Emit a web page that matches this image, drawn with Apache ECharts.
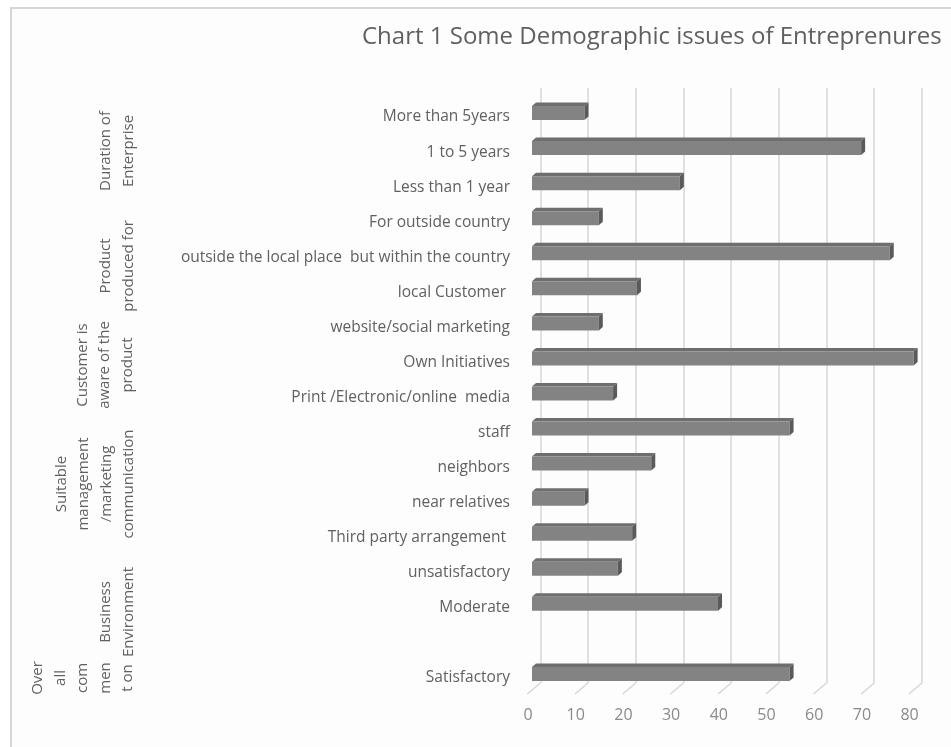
<!DOCTYPE html>
<html>
<head>
<meta charset="utf-8">
<script src="https://cdn.jsdelivr.net/npm/echarts@6/dist/echarts.min.js"></script>
<style>
  html, body { margin: 0; padding: 0; background: #ffffff; }
  #chart { width: 951px; height: 747px; }
</style>
</head>
<body>
<div id="chart"></div>
<script>
// Survey responses (count of entrepreneurs), top to bottom
var categories = [
  'More than 5years',
  '1 to 5 years',
  'Less than 1 year',
  'For outside country',
  'outside the local place  but within the country',
  'local Customer ',
  'website/social marketing',
  'Own Initiatives',
  'Print /Electronic/online  media',
  'staff',
  'neighbors',
  'near relatives',
  'Third party arrangement ',
  'unsatisfactory',
  'Moderate',
  '',
  'Satisfactory'
];
var values = [11, 69, 31, 14, 75, 22, 14, 80, 17, 54, 25, 11, 21, 18, 39, null, 54];

// Value axis ticks
var xTicks = [0, 10, 20, 30, 40, 50, 60, 70, 80];

// Group captions shown rotated at the left
var groupLabels = [
  'Duration of\nEnterprise',
  'Product\nproduced for',
  'Customer is\naware of the\nproduct',
  'Suitable\nmanagement\n/marketing\ncommunication',
  'Business\nEnvironment',
  'Over\nall\ncom\nmen\nt on'
];

var FONT = '"Open Sans", "Liberation Sans", sans-serif';
var TXT = '#606060';

var chart = echarts.init(document.getElementById('chart'), null, { renderer: 'canvas' });

var barData = [];
for (var i = 0; i < values.length; i++) {
  if (values[i] != null) barData.push([values[i], i]);
}
var floorData = xTicks.map(function (t) { return [t, 0]; });

// Shaded 3D-looking bar: front face, top face and right side face
function renderBar(params, api) {
  var idx = api.value(1);
  var v = api.value(0);
  var p0 = api.coord([0, idx]);
  var p1 = api.coord([v, idx]);
  var cy = p0[1];
  var x0 = p0[0], x1 = p1[0];
  var yT = cy - 11, yB = cy + 3;
  var dx = 4, dy = -3.5;
  return {
    type: 'group',
    children: [
      { type: 'polygon', shape: { points: [[x0, yT], [x1, yT], [x1 + dx, yT + dy], [x0 + dx, yT + dy]] },
        style: { fill: '#6e6e6e' } },
      { type: 'rect', shape: { x: x0, y: yT, width: x1 - x0, height: yB - yT },
        style: { fill: '#838383' } },
      { type: 'polygon', shape: { points: [[x1, yT], [x1 + dx, yT + dy], [x1 + dx, yB + dy], [x1, yB]] },
        style: { fill: '#5a5a5a' } }
    ]
  };
}

// Floor edges running forward from the back wall gridlines
function renderFloor(params, api) {
  var p = api.coord([api.value(0), 0]);
  return {
    type: 'line',
    shape: { x1: p[0], y1: p[1], x2: p[0] - 13, y2: p[1] + 11 },
    style: { stroke: '#d6d6d6', lineWidth: 1.5 }
  };
}

var groupCenters = [[117, 151], [117, 266], [105, 365], [95, 484], [117, 612], [83, 678]];
var graphics = [
  { type: 'rect', left: 10, top: 7, z: -10,
    shape: { x: 0, y: 0, width: 1000, height: 800 },
    style: { fill: '#fdfdfd', stroke: '#d6d6d6', lineWidth: 2 } }
];
groupLabels.forEach(function (txt, k) {
  graphics.push({
    type: 'text',
    x: groupCenters[k][0], y: groupCenters[k][1],
    rotation: Math.PI / 2,
    style: {
      text: txt, fill: TXT, font: '15px ' + FONT,
      textAlign: 'center', textVerticalAlign: 'middle', lineHeight: 22.5
    }
  });
});

var option = {
  animation: false,
  backgroundColor: '#ffffff',
  title: {
    text: 'Chart 1 Some Demographic issues of Entreprenures',
    left: 357, top: 20,
    textStyle: { fontFamily: FONT, fontSize: 24, fontWeight: 'normal', color: TXT }
  },
  graphic: graphics,
  grid: [
    { left: 532, top: 99.5, width: 381.6, height: 596 },
    { left: 540.3, top: 88, width: 381.6, height: 595 }
  ],
  xAxis: [
    { gridIndex: 0, type: 'value', min: 0, max: 80, interval: 10,
      axisLine: { show: false }, axisTick: { show: false }, splitLine: { show: false },
      axisLabel: { margin: 12, color: '#8a8a8a', fontFamily: FONT, fontSize: 16, padding: [0, 8, 0, 0] } },
    { gridIndex: 1, type: 'value', min: 0, max: 80, interval: 10,
      axisLine: { show: false }, axisTick: { show: false }, axisLabel: { show: false },
      splitLine: { show: true, lineStyle: { color: '#d6d6d6', width: 1.5 } } }
  ],
  yAxis: [
    { gridIndex: 0, type: 'category', data: categories, inverse: true,
      axisLine: { show: false }, axisTick: { show: false }, splitLine: { show: false },
      axisLabel: { margin: 22, color: TXT, fontFamily: FONT, fontSize: 15.5 } },
    { gridIndex: 1, type: 'value', min: 0, max: 1, show: false }
  ],
  series: [
    { type: 'custom', xAxisIndex: 1, yAxisIndex: 1, data: floorData,
      encode: { x: 0, y: 1 }, renderItem: renderFloor, silent: true, z: 1 },
    { type: 'custom', xAxisIndex: 0, yAxisIndex: 0, data: barData,
      encode: { x: 0, y: 1 }, renderItem: renderBar, z: 5 }
  ]
};

chart.setOption(option);
</script>
</body>
</html>
